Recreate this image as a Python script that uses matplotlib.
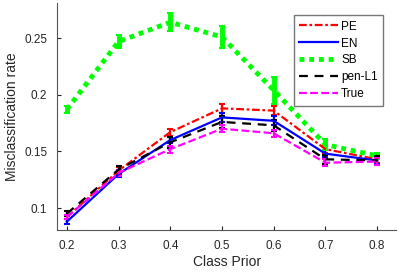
import numpy as np
import matplotlib
matplotlib.use("Agg")
import matplotlib.pyplot as plt
from matplotlib.lines import Line2D

plt.rcParams["font.family"] = ["Liberation Sans", "DejaVu Sans"]

prior = [0.2, 0.3, 0.4, 0.5, 0.6, 0.7, 0.8]

pe = [0.092, 0.133, 0.167, 0.188, 0.186, 0.152, 0.143]
pe_err = [0.002, 0.003, 0.003, 0.004, 0.004, 0.003, 0.003]
en = [0.088, 0.130, 0.160, 0.180, 0.177, 0.148, 0.142]
en_err = [0.002, 0.003, 0.003, 0.004, 0.004, 0.003, 0.003]
sb = [0.187, 0.247, 0.264, 0.251, 0.204, 0.156, 0.146]
sb_err = [0.003, 0.006, 0.008, 0.010, 0.012, 0.005, 0.003]
pen = [0.095, 0.134, 0.158, 0.176, 0.173, 0.143, 0.142]
pen_err = [0.002, 0.003, 0.005, 0.005, 0.005, 0.004, 0.004]
true = [0.092, 0.131, 0.152, 0.170, 0.166, 0.140, 0.141]
true_err = [0.002, 0.003, 0.003, 0.003, 0.003, 0.003, 0.003]

series = [
    ("PE", pe, pe_err, "#ff0000", (0, (3.5, 1.2, 1.2, 1.2)), 1.6),
    ("EN", en, en_err, "#0000ff", "-", 1.6),
    ("SB", sb, sb_err, "#00ff00", (0, (1, 1)), 3.5),
    ("pen-L1", pen, pen_err, "#000000", (0, (4, 3)), 1.6),
    ("True", true, true_err, "#ff00ff", (0, (3.5, 1.5)), 1.6),
]

fig = plt.figure(figsize=(3.99, 2.72), dpi=100)
ax = fig.add_axes([0.143, 0.154, 0.85, 0.835])

handles = []
for name, y, err, col, ls, lw in series:
    ax.errorbar(prior, y, yerr=err, color=col, linestyle=ls, linewidth=lw,
                elinewidth=lw, capsize=2.5, capthick=1.5)
    handles.append(Line2D([], [], color=col, linestyle=ls, linewidth=lw, label=name))

ax.set_xlim(0.181, 0.837)
ax.set_ylim(0.0805, 0.281)
ax.set_xticks(prior)
ax.set_xticklabels(["0.2", "0.3", "0.4", "0.5", "0.6", "0.7", "0.8"])
ax.set_yticks([0.1, 0.15, 0.2, 0.25])
ax.set_yticklabels(["0.1", "0.15", "0.2", "0.25"])
ax.set_xlabel("Class Prior", fontsize=10, color="#262626", labelpad=2)
ax.set_ylabel("Misclassification rate", fontsize=10, color="#262626", labelpad=4)
for s in ["top", "right"]:
    ax.spines[s].set_visible(False)
for s in ["left", "bottom"]:
    ax.spines[s].set_color("#555555")
ax.tick_params(colors="#262626", labelsize=8.5, direction="in", length=3, pad=7)

leg = ax.legend(handles=handles, loc="upper left", bbox_to_anchor=(0.698, 0.946),
                fontsize=8.5, frameon=True, fancybox=False, handlelength=3.3,
                handletextpad=0.25, borderpad=0.45, borderaxespad=0.0,
                labelspacing=0.42)
leg.get_frame().set_edgecolor("#555555")
leg.get_frame().set_linewidth(1.0)

fig.savefig("out.png", dpi=100)
